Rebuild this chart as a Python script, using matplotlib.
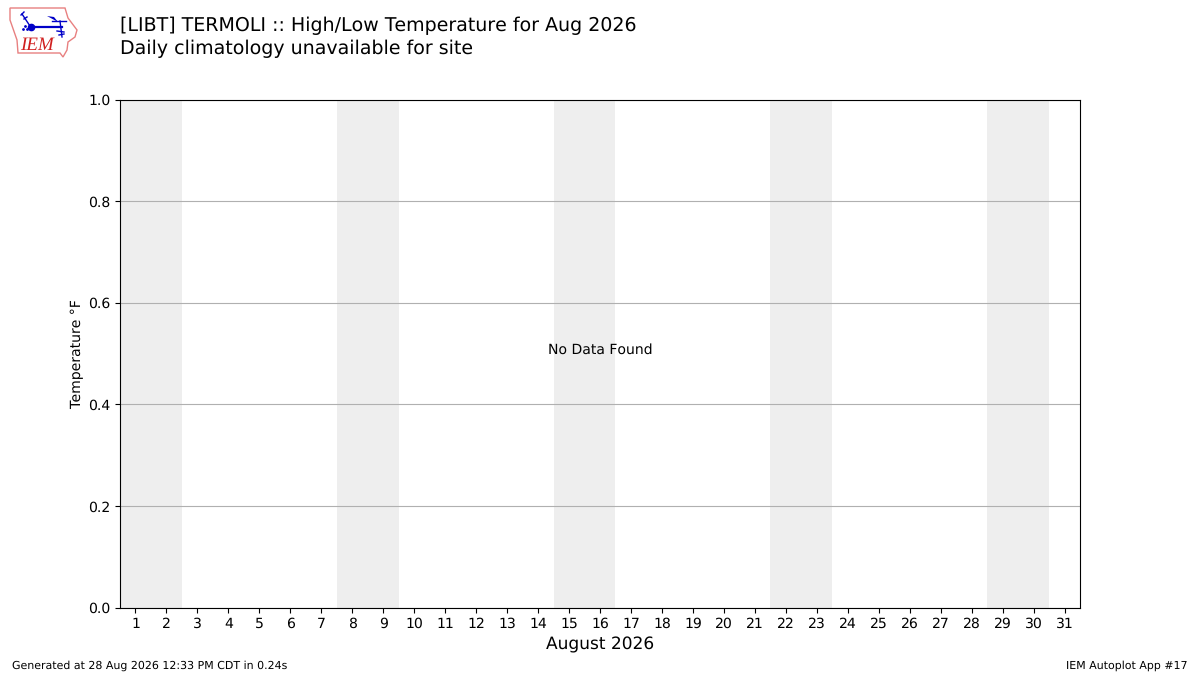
import matplotlib
matplotlib.use("Agg")
import matplotlib.pyplot as plt
from matplotlib.patches import Polygon

plt.rcParams["text.hinting"] = "none"
plt.rcParams["text.hinting_factor"] = 1

days = list(range(1, 32))
weekend_spans = [(0.5, 2.5), (7.5, 9.5), (14.5, 16.5), (21.5, 23.5), (28.5, 30.5)]
title_lines = ["[LIBT] TERMOLI :: High/Low Temperature for Aug 2026",
               "Daily climatology unavailable for site"]
yticks = [0.0, 0.2, 0.4, 0.6, 0.8, 1.0]

fig = plt.figure(figsize=(12, 6.75), dpi=100)
ax = fig.add_axes([0.1, 0.1, 0.8, 0.752])
for a, b in weekend_spans:
    ax.axvspan(a, b, color="#eeeeee", lw=0, zorder=0)
ax.set_xlim(0.5, 31.5)
ax.set_ylim(0, 1)
ax.set_xticks(days)
ax.set_yticks(yticks)
ax.tick_params(labelsize=10)
ax.grid(axis="y", color="#b0b0b0", lw=0.8)
ax.set_axisbelow(True)
ax.set_ylabel("Temperature °F", fontsize=10, labelpad=3)
ax.set_xlabel("August 2026", fontsize=12)
ax.text(0.5, 0.5, "No Data Found", transform=ax.transAxes, ha="center", va="baseline", fontsize=10)

fig.text(0.1, 0.9615, title_lines[0], fontsize=14, ha="left", va="center")
fig.text(0.1, 0.9275, title_lines[1], fontsize=14, ha="left", va="center")
fig.text(0.01, 0.0135, "Generated at 28 Aug 2026 12:33 PM CDT in 0.24s", fontsize=8, ha="left", va="center")
fig.text(0.99, 0.0135, "IEM Autoplot App #17", fontsize=8, ha="right", va="center")

# logo, drawn in pixel-like coordinates of the top-left corner
logo = fig.add_axes([0, 1 - 60 / 675, 80 / 1200, 60 / 675])
logo.set_xlim(0, 80)
logo.set_ylim(60, 0)
logo.axis("off")
outline = [(10, 8), (65, 8), (68, 18), (77, 30), (75, 37), (68, 42), (67, 50), (63, 57), (60, 53), (18, 53), (17, 40), (10, 20)]
logo.add_patch(Polygon(outline, closed=True, fill=False, ec="#e88080", lw=1))
blue = "#0000c8"
logo.plot([31, 62], [27, 27], color=blue, lw=1.6)
logo.plot([31], [27], "o", color=blue, ms=4.5)
logo.plot([22, 30], [14, 26], color=blue, lw=1)
logo.plot([21, 24], [15, 12], color=blue, lw=1)
logo.plot([24, 27], [19, 17], color=blue, lw=1)
logo.add_patch(Polygon([(47, 16), (54, 17), (58, 22)], closed=True, color=blue, lw=0))
logo.plot([52, 66], [21, 21], color=blue, lw=1)
logo.plot([60, 62], [21, 37], color=blue, lw=1)
logo.plot([57, 64], [31, 32], color=blue, lw=1)
logo.plot([59, 64], [35, 34], color=blue, lw=1)
logo.plot([23, 25, 27], [29, 26, 29], ".", color=blue, ms=2)
logo.text(20.5, 45.5, "IEM", color="#d02020", fontsize=14, style="italic", family="Liberation Serif", va="center")

fig.savefig("out.png", dpi=100)
